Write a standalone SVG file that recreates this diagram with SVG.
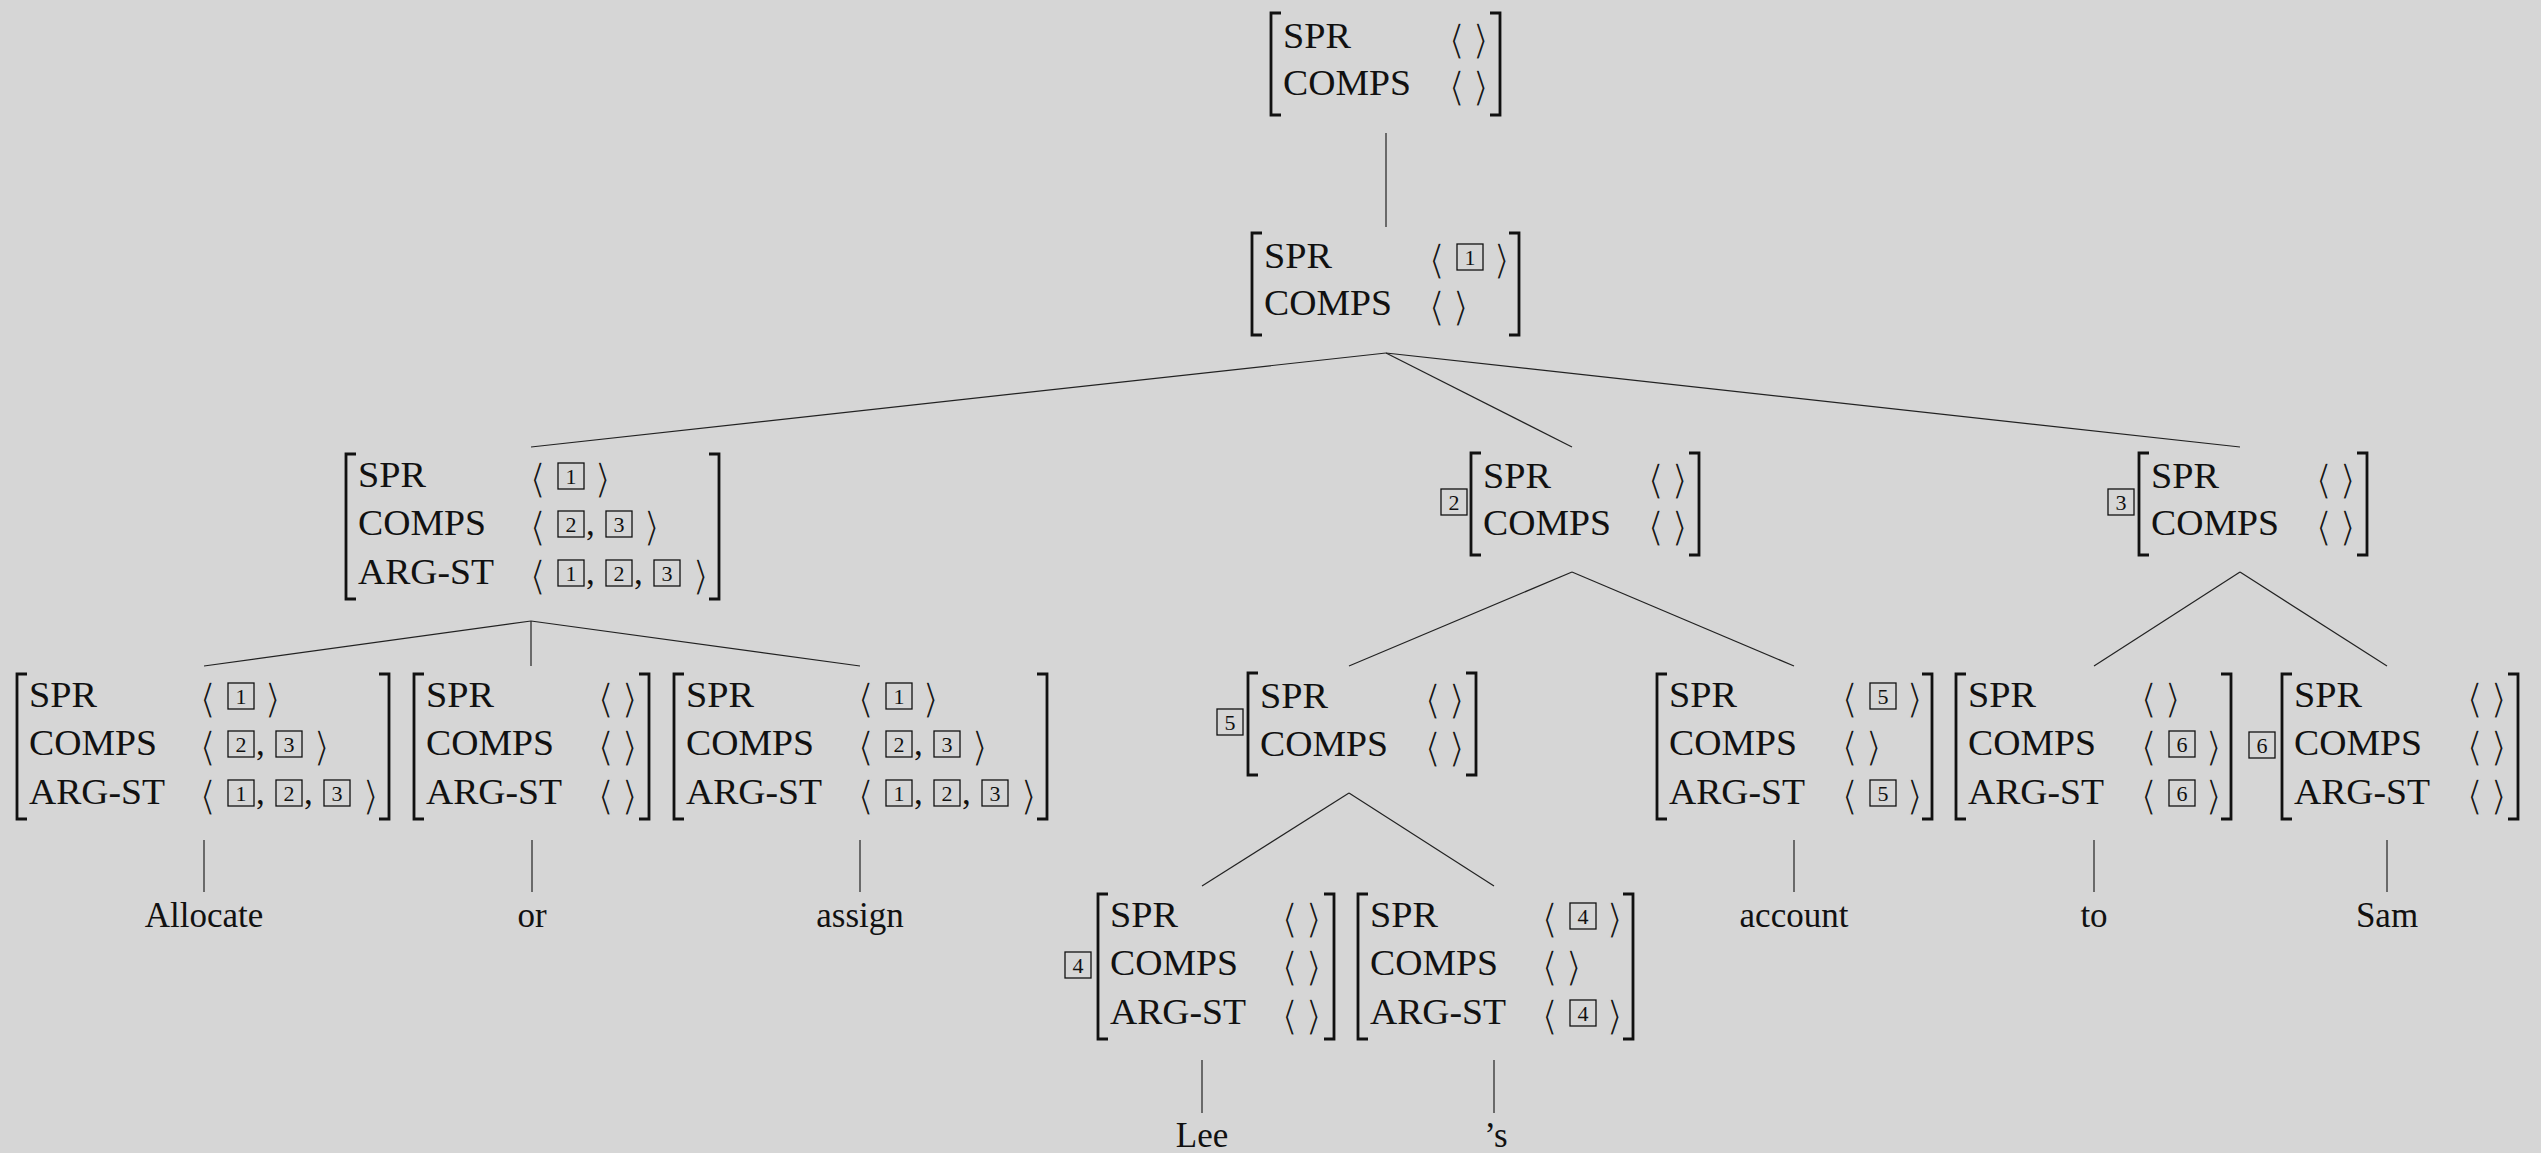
<svg xmlns="http://www.w3.org/2000/svg" width="2541" height="1153" viewBox="0 0 2541 1153">
  <style>
    .t { font-family: "Liberation Serif", "Times New Roman", serif; font-size: 35px; fill: #111; }
    .w { font-family: "Liberation Serif", "Times New Roman", serif; font-size: 35px; fill: #111; text-anchor: middle; }
    /* angle brackets: tall delimiters centred on the math axis; a background-coloured
       outline thins the strokes */
    .ab { font-family: "DejaVu Sans", sans-serif; font-size: 37px; fill: #151515; stroke: #d6d6d6; stroke-width: 1.3px; transform: translate(0px, 5.9px) scale(1.2, 1.1); }
    .n { font-family: "Liberation Serif", "Times New Roman", serif; font-size: 22px; fill: #111; text-anchor: middle; }
    .bx { fill: none; stroke: #111; stroke-width: 1.3; }
    .br { fill: none; stroke: #111; stroke-width: 2.8; }
    .e { fill: none; stroke: #222; stroke-width: 1.2; }
  </style>
  <rect width="2541" height="1153" fill="#d6d6d6"/>

  <!-- tree edges -->
  <g id="edges" class="e">
    <path d="M1386 133V227"/>
    <path d="M1386 353L531 447"/>
    <path d="M1386 353L1572 447"/>
    <path d="M1386 353L2240 447"/>
    <path d="M531 621L204 666"/>
    <path d="M531 621V666"/>
    <path d="M531 621L860 666"/>
    <path d="M1572 572L1349 666"/>
    <path d="M1572 572L1794 666"/>
    <path d="M2240 572L2094 666"/>
    <path d="M2240 572L2387 666"/>
    <path d="M1349 793L1202 886"/>
    <path d="M1349 793L1494 886"/>
    <path d="M204 840V892"/>
    <path d="M532 840V892"/>
    <path d="M860 840V892"/>
    <path d="M1794 840V892"/>
    <path d="M2094 840V892"/>
    <path d="M2387 840V892"/>
    <path d="M1202 1060V1113"/>
    <path d="M1494 1060V1113"/>
  </g>

  <!-- root: S -->
  <g id="n-root">
    <path class="br" d="M1281 13H1271V115H1281"/>
    <path class="br" d="M1490 13H1500V115H1490"/>
    <text class="t" x="1283" y="48" textLength="68" lengthAdjust="spacingAndGlyphs">SPR</text>
    <text class="t" x="1283" y="95" textLength="128" lengthAdjust="spacingAndGlyphs">COMPS</text>
    <g transform="translate(1448 48)"><text class="ab">⟨</text></g>
    <g transform="translate(1472 48)"><text class="ab">⟩</text></g>
    <g transform="translate(1448 95)"><text class="ab">⟨</text></g>
    <g transform="translate(1472 95)"><text class="ab">⟩</text></g>
  </g>

  <!-- VP over the coordination -->
  <g id="n-vp">
    <path class="br" d="M1262 233H1252V335H1262"/>
    <path class="br" d="M1509 233H1519V335H1509"/>
    <text class="t" x="1264" y="268" textLength="68" lengthAdjust="spacingAndGlyphs">SPR</text>
    <text class="t" x="1264" y="315" textLength="128" lengthAdjust="spacingAndGlyphs">COMPS</text>
    <g transform="translate(1428 268)"><text class="ab">⟨</text></g>
    <rect class="bx" x="1457" y="244" width="26" height="26"/><text class="n" x="1470" y="265">1</text>
    <g transform="translate(1493 268)"><text class="ab">⟩</text></g>
    <g transform="translate(1428 315)"><text class="ab">⟨</text></g>
    <g transform="translate(1452 315)"><text class="ab">⟩</text></g>
  </g>

  <!-- coordinated verb -->
  <g id="n-vcoord">
    <path class="br" d="M356 454H346V599H356"/>
    <path class="br" d="M709 454H719V599H709"/>
    <text class="t" x="358" y="487" textLength="68" lengthAdjust="spacingAndGlyphs">SPR</text>
    <text class="t" x="358" y="535" textLength="128" lengthAdjust="spacingAndGlyphs">COMPS</text>
    <text class="t" x="358" y="584" textLength="136" lengthAdjust="spacingAndGlyphs">ARG-ST</text>
    <g transform="translate(529 487)"><text class="ab">⟨</text></g>
    <rect class="bx" x="558" y="463" width="26" height="26"/><text class="n" x="571" y="484">1</text>
    <g transform="translate(594 487)"><text class="ab">⟩</text></g>
    <g transform="translate(529 535)"><text class="ab">⟨</text></g>
    <rect class="bx" x="558" y="511" width="26" height="26"/><text class="n" x="571" y="532">2</text>
    <text class="t" x="586" y="535">,</text>
    <rect class="bx" x="606" y="511" width="26" height="26"/><text class="n" x="619" y="532">3</text>
    <g transform="translate(643 535)"><text class="ab">⟩</text></g>
    <g transform="translate(529 584)"><text class="ab">⟨</text></g>
    <rect class="bx" x="558" y="560" width="26" height="26"/><text class="n" x="571" y="581">1</text>
    <text class="t" x="586" y="584">,</text>
    <rect class="bx" x="606" y="560" width="26" height="26"/><text class="n" x="619" y="581">2</text>
    <text class="t" x="634" y="584">,</text>
    <rect class="bx" x="654" y="560" width="26" height="26"/><text class="n" x="667" y="581">3</text>
    <g transform="translate(692 584)"><text class="ab">⟩</text></g>
  </g>

  <!-- NP tagged 2 -->
  <g id="n-np2">
    <rect class="bx" x="1441" y="489" width="26" height="26"/><text class="n" x="1454" y="510">2</text>
    <path class="br" d="M1481 453H1471V555H1481"/>
    <path class="br" d="M1689 453H1699V555H1689"/>
    <text class="t" x="1483" y="488" textLength="68" lengthAdjust="spacingAndGlyphs">SPR</text>
    <text class="t" x="1483" y="535" textLength="128" lengthAdjust="spacingAndGlyphs">COMPS</text>
    <g transform="translate(1647 488)"><text class="ab">⟨</text></g>
    <g transform="translate(1671 488)"><text class="ab">⟩</text></g>
    <g transform="translate(1647 535)"><text class="ab">⟨</text></g>
    <g transform="translate(1671 535)"><text class="ab">⟩</text></g>
  </g>

  <!-- PP tagged 3 -->
  <g id="n-pp3">
    <rect class="bx" x="2108" y="489" width="26" height="26"/><text class="n" x="2121" y="510">3</text>
    <path class="br" d="M2149 453H2139V555H2149"/>
    <path class="br" d="M2357 453H2367V555H2357"/>
    <text class="t" x="2151" y="488" textLength="68" lengthAdjust="spacingAndGlyphs">SPR</text>
    <text class="t" x="2151" y="535" textLength="128" lengthAdjust="spacingAndGlyphs">COMPS</text>
    <g transform="translate(2315 488)"><text class="ab">⟨</text></g>
    <g transform="translate(2339 488)"><text class="ab">⟩</text></g>
    <g transform="translate(2315 535)"><text class="ab">⟨</text></g>
    <g transform="translate(2339 535)"><text class="ab">⟩</text></g>
  </g>

  <!-- verb: Allocate -->
  <g id="n-allocate">
    <path class="br" d="M27 674H17V819H27"/>
    <path class="br" d="M379 674H389V819H379"/>
    <text class="t" x="29" y="707" textLength="68" lengthAdjust="spacingAndGlyphs">SPR</text>
    <text class="t" x="29" y="755" textLength="128" lengthAdjust="spacingAndGlyphs">COMPS</text>
    <text class="t" x="29" y="804" textLength="136" lengthAdjust="spacingAndGlyphs">ARG-ST</text>
    <g transform="translate(199 707)"><text class="ab">⟨</text></g>
    <rect class="bx" x="228" y="683" width="26" height="26"/><text class="n" x="241" y="704">1</text>
    <g transform="translate(264 707)"><text class="ab">⟩</text></g>
    <g transform="translate(199 755)"><text class="ab">⟨</text></g>
    <rect class="bx" x="228" y="731" width="26" height="26"/><text class="n" x="241" y="752">2</text>
    <text class="t" x="256" y="755">,</text>
    <rect class="bx" x="276" y="731" width="26" height="26"/><text class="n" x="289" y="752">3</text>
    <g transform="translate(313 755)"><text class="ab">⟩</text></g>
    <g transform="translate(199 804)"><text class="ab">⟨</text></g>
    <rect class="bx" x="228" y="780" width="26" height="26"/><text class="n" x="241" y="801">1</text>
    <text class="t" x="256" y="804">,</text>
    <rect class="bx" x="276" y="780" width="26" height="26"/><text class="n" x="289" y="801">2</text>
    <text class="t" x="304" y="804">,</text>
    <rect class="bx" x="324" y="780" width="26" height="26"/><text class="n" x="337" y="801">3</text>
    <g transform="translate(362 804)"><text class="ab">⟩</text></g>
    <text class="w" x="204" y="927">Allocate</text>
  </g>

  <!-- conjunction: or -->
  <g id="n-or">
    <path class="br" d="M424 674H414V819H424"/>
    <path class="br" d="M639 674H649V819H639"/>
    <text class="t" x="426" y="707" textLength="68" lengthAdjust="spacingAndGlyphs">SPR</text>
    <text class="t" x="426" y="755" textLength="128" lengthAdjust="spacingAndGlyphs">COMPS</text>
    <text class="t" x="426" y="804" textLength="136" lengthAdjust="spacingAndGlyphs">ARG-ST</text>
    <g transform="translate(597 707)"><text class="ab">⟨</text></g>
    <g transform="translate(621 707)"><text class="ab">⟩</text></g>
    <g transform="translate(597 755)"><text class="ab">⟨</text></g>
    <g transform="translate(621 755)"><text class="ab">⟩</text></g>
    <g transform="translate(597 804)"><text class="ab">⟨</text></g>
    <g transform="translate(621 804)"><text class="ab">⟩</text></g>
    <text class="w" x="532" y="927">or</text>
  </g>

  <!-- verb: assign -->
  <g id="n-assign">
    <path class="br" d="M684 674H674V819H684"/>
    <path class="br" d="M1037 674H1047V819H1037"/>
    <text class="t" x="686" y="707" textLength="68" lengthAdjust="spacingAndGlyphs">SPR</text>
    <text class="t" x="686" y="755" textLength="128" lengthAdjust="spacingAndGlyphs">COMPS</text>
    <text class="t" x="686" y="804" textLength="136" lengthAdjust="spacingAndGlyphs">ARG-ST</text>
    <g transform="translate(857 707)"><text class="ab">⟨</text></g>
    <rect class="bx" x="886" y="683" width="26" height="26"/><text class="n" x="899" y="704">1</text>
    <g transform="translate(922 707)"><text class="ab">⟩</text></g>
    <g transform="translate(857 755)"><text class="ab">⟨</text></g>
    <rect class="bx" x="886" y="731" width="26" height="26"/><text class="n" x="899" y="752">2</text>
    <text class="t" x="914" y="755">,</text>
    <rect class="bx" x="934" y="731" width="26" height="26"/><text class="n" x="947" y="752">3</text>
    <g transform="translate(971 755)"><text class="ab">⟩</text></g>
    <g transform="translate(857 804)"><text class="ab">⟨</text></g>
    <rect class="bx" x="886" y="780" width="26" height="26"/><text class="n" x="899" y="801">1</text>
    <text class="t" x="914" y="804">,</text>
    <rect class="bx" x="934" y="780" width="26" height="26"/><text class="n" x="947" y="801">2</text>
    <text class="t" x="962" y="804">,</text>
    <rect class="bx" x="982" y="780" width="26" height="26"/><text class="n" x="995" y="801">3</text>
    <g transform="translate(1020 804)"><text class="ab">⟩</text></g>
    <text class="w" x="860" y="927">assign</text>
  </g>

  <!-- determiner phrase tagged 5 -->
  <g id="n-dp5">
    <rect class="bx" x="1217" y="709" width="26" height="26"/><text class="n" x="1230" y="730">5</text>
    <path class="br" d="M1258 673H1248V775H1258"/>
    <path class="br" d="M1466 673H1476V775H1466"/>
    <text class="t" x="1260" y="708" textLength="68" lengthAdjust="spacingAndGlyphs">SPR</text>
    <text class="t" x="1260" y="756" textLength="128" lengthAdjust="spacingAndGlyphs">COMPS</text>
    <g transform="translate(1424 708)"><text class="ab">⟨</text></g>
    <g transform="translate(1448 708)"><text class="ab">⟩</text></g>
    <g transform="translate(1424 756)"><text class="ab">⟨</text></g>
    <g transform="translate(1448 756)"><text class="ab">⟩</text></g>
  </g>

  <!-- noun: account -->
  <g id="n-account">
    <path class="br" d="M1667 674H1657V819H1667"/>
    <path class="br" d="M1922 674H1932V819H1922"/>
    <text class="t" x="1669" y="707" textLength="68" lengthAdjust="spacingAndGlyphs">SPR</text>
    <text class="t" x="1669" y="755" textLength="128" lengthAdjust="spacingAndGlyphs">COMPS</text>
    <text class="t" x="1669" y="804" textLength="136" lengthAdjust="spacingAndGlyphs">ARG-ST</text>
    <g transform="translate(1841 707)"><text class="ab">⟨</text></g>
    <rect class="bx" x="1870" y="683" width="26" height="26"/><text class="n" x="1883" y="704">5</text>
    <g transform="translate(1906 707)"><text class="ab">⟩</text></g>
    <g transform="translate(1841 755)"><text class="ab">⟨</text></g>
    <g transform="translate(1865 755)"><text class="ab">⟩</text></g>
    <g transform="translate(1841 804)"><text class="ab">⟨</text></g>
    <rect class="bx" x="1870" y="780" width="26" height="26"/><text class="n" x="1883" y="801">5</text>
    <g transform="translate(1906 804)"><text class="ab">⟩</text></g>
    <text class="w" x="1794" y="927">account</text>
  </g>

  <!-- preposition: to -->
  <g id="n-to">
    <path class="br" d="M1966 674H1956V819H1966"/>
    <path class="br" d="M2221 674H2231V819H2221"/>
    <text class="t" x="1968" y="707" textLength="68" lengthAdjust="spacingAndGlyphs">SPR</text>
    <text class="t" x="1968" y="755" textLength="128" lengthAdjust="spacingAndGlyphs">COMPS</text>
    <text class="t" x="1968" y="804" textLength="136" lengthAdjust="spacingAndGlyphs">ARG-ST</text>
    <g transform="translate(2140 707)"><text class="ab">⟨</text></g>
    <g transform="translate(2164 707)"><text class="ab">⟩</text></g>
    <g transform="translate(2140 755)"><text class="ab">⟨</text></g>
    <rect class="bx" x="2169" y="731" width="26" height="26"/><text class="n" x="2182" y="752">6</text>
    <g transform="translate(2205 755)"><text class="ab">⟩</text></g>
    <g transform="translate(2140 804)"><text class="ab">⟨</text></g>
    <rect class="bx" x="2169" y="780" width="26" height="26"/><text class="n" x="2182" y="801">6</text>
    <g transform="translate(2205 804)"><text class="ab">⟩</text></g>
    <text class="w" x="2094" y="927">to</text>
  </g>

  <!-- NP tagged 6: Sam -->
  <g id="n-sam">
    <rect class="bx" x="2249" y="732" width="26" height="26"/><text class="n" x="2262" y="753">6</text>
    <path class="br" d="M2292 674H2282V819H2292"/>
    <path class="br" d="M2508 674H2518V819H2508"/>
    <text class="t" x="2294" y="707" textLength="68" lengthAdjust="spacingAndGlyphs">SPR</text>
    <text class="t" x="2294" y="755" textLength="128" lengthAdjust="spacingAndGlyphs">COMPS</text>
    <text class="t" x="2294" y="804" textLength="136" lengthAdjust="spacingAndGlyphs">ARG-ST</text>
    <g transform="translate(2466 707)"><text class="ab">⟨</text></g>
    <g transform="translate(2490 707)"><text class="ab">⟩</text></g>
    <g transform="translate(2466 755)"><text class="ab">⟨</text></g>
    <g transform="translate(2490 755)"><text class="ab">⟩</text></g>
    <g transform="translate(2466 804)"><text class="ab">⟨</text></g>
    <g transform="translate(2490 804)"><text class="ab">⟩</text></g>
    <text class="w" x="2387" y="927">Sam</text>
  </g>

  <!-- NP tagged 4: Lee -->
  <g id="n-lee">
    <rect class="bx" x="1065" y="952" width="26" height="26"/><text class="n" x="1078" y="973">4</text>
    <path class="br" d="M1108 894H1098V1039H1108"/>
    <path class="br" d="M1324 894H1334V1039H1324"/>
    <text class="t" x="1110" y="927" textLength="68" lengthAdjust="spacingAndGlyphs">SPR</text>
    <text class="t" x="1110" y="975" textLength="128" lengthAdjust="spacingAndGlyphs">COMPS</text>
    <text class="t" x="1110" y="1024" textLength="136" lengthAdjust="spacingAndGlyphs">ARG-ST</text>
    <g transform="translate(1281 927)"><text class="ab">⟨</text></g>
    <g transform="translate(1305 927)"><text class="ab">⟩</text></g>
    <g transform="translate(1281 975)"><text class="ab">⟨</text></g>
    <g transform="translate(1305 975)"><text class="ab">⟩</text></g>
    <g transform="translate(1281 1024)"><text class="ab">⟨</text></g>
    <g transform="translate(1305 1024)"><text class="ab">⟩</text></g>
    <text class="w" x="1202" y="1147">Lee</text>
  </g>

  <!-- determiner: 's -->
  <g id="n-poss">
    <path class="br" d="M1368 894H1358V1039H1368"/>
    <path class="br" d="M1623 894H1633V1039H1623"/>
    <text class="t" x="1370" y="927" textLength="68" lengthAdjust="spacingAndGlyphs">SPR</text>
    <text class="t" x="1370" y="975" textLength="128" lengthAdjust="spacingAndGlyphs">COMPS</text>
    <text class="t" x="1370" y="1024" textLength="136" lengthAdjust="spacingAndGlyphs">ARG-ST</text>
    <g transform="translate(1541 927)"><text class="ab">⟨</text></g>
    <rect class="bx" x="1570" y="903" width="26" height="26"/><text class="n" x="1583" y="924">4</text>
    <g transform="translate(1606 927)"><text class="ab">⟩</text></g>
    <g transform="translate(1541 975)"><text class="ab">⟨</text></g>
    <g transform="translate(1565 975)"><text class="ab">⟩</text></g>
    <g transform="translate(1541 1024)"><text class="ab">⟨</text></g>
    <rect class="bx" x="1570" y="1000" width="26" height="26"/><text class="n" x="1583" y="1021">4</text>
    <g transform="translate(1606 1024)"><text class="ab">⟩</text></g>
    <text class="w" x="1496" y="1147">’s</text>
  </g>
</svg>
